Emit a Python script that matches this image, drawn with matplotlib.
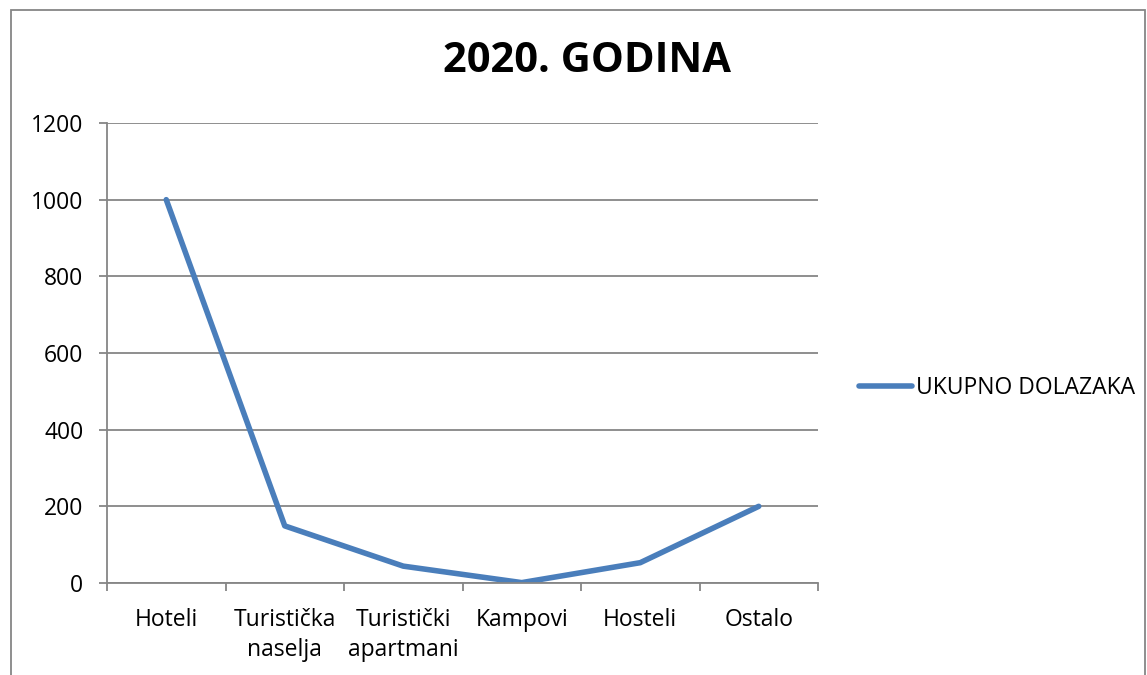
import matplotlib
matplotlib.use("Agg")
import matplotlib.pyplot as plt
from matplotlib.patches import Rectangle

# data
categories = ["Hoteli", "Turistička\nnaselja", "Turistički\napartmani", "Kampovi", "Hosteli", "Ostalo"]
dolasci = [1000, 149, 44, 1, 53, 200]
yticks = [0, 200, 400, 600, 800, 1000, 1200]

plt.rcParams["font.family"] = ["Open Sans", "DejaVu Sans"]

W, H = 1147, 675
fig = plt.figure(figsize=(W / 100, H / 100), dpi=100)
ax = fig.add_axes([107 / W, 1 - 583 / H, (818 - 107) / W, (583 - 123) / H])

x = range(len(categories))
ax.plot(x, dolasci, color="#4A7EBB", lw=4, solid_capstyle="round",
        solid_joinstyle="round", label="UKUPNO DOLAZAKA")

ax.set_xlim(-0.5, len(categories) - 0.5)
ax.set_ylim(0, 1200)
ax.set_yticks(yticks)
ax.set_xticks(x)
ax.set_xticklabels(categories, fontsize=16.5, linespacing=1.35)
ax.set_xticks([i - 0.5 for i in range(len(categories) + 1)], minor=True)
ax.tick_params(axis="x", which="major", length=0, pad=18)
ax.tick_params(axis="x", which="minor", length=6, color="#868686", width=1.3)
ax.tick_params(axis="y", length=6, color="#868686", width=1.3, labelsize=16.5, pad=11)
ax.grid(axis="y", color="#868686", lw=1.3)
ax.set_axisbelow(True)
for s in ["top", "right"]:
    ax.spines[s].set_visible(False)
for s in ["left", "bottom"]:
    ax.spines[s].set_color("#868686")
    ax.spines[s].set_linewidth(1.3)

fig.text(587 / W, 1 - 62 / H, "2020. GODINA", fontsize=30, fontweight="bold",
         ha="center", va="center")

ax.legend(loc="center left", bbox_to_anchor=(859 / W, 1 - 388 / H),
          bbox_transform=fig.transFigure, frameon=False, fontsize=16.5,
          handlelength=2.3, handletextpad=0.2, borderpad=0, borderaxespad=0)

# outer chart border
fig.patches.append(Rectangle((11 / W, -0.1), (1145 - 11) / W, 1.1 - 10 / H,
                             transform=fig.transFigure, fill=False,
                             edgecolor="#868686", lw=1.3))

fig.savefig("out.png", dpi=100)
